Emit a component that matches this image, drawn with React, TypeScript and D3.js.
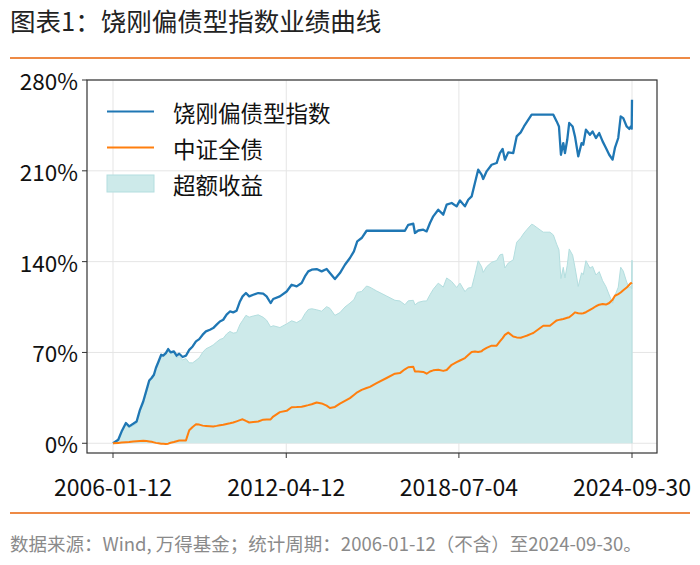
import React from "react";
import * as d3 from "d3";

const dates: string[] = [
  "2006-01-12","2006-03-22","2006-05-05","2006-07-01","2006-08-13","2006-10-05","2006-11-19",
  "2007-01-02","2007-02-14","2007-03-30","2007-05-04","2007-06-04","2007-07-05","2007-07-31",
  "2007-09-04","2007-10-09","2007-11-04","2007-12-09","2008-01-09","2008-02-10","2008-03-24",
  "2008-04-29","2008-06-02","2008-07-17","2008-08-30","2008-10-12","2008-11-26","2009-01-09",
  "2009-02-21","2009-04-07","2009-05-20","2009-07-12","2009-08-24","2009-10-08","2009-11-20",
  "2010-01-03","2010-02-16","2010-04-01","2010-05-14","2010-06-28","2010-08-11","2010-09-15",
  "2010-10-29","2010-12-11","2011-02-02","2011-04-09","2011-06-13","2011-07-28","2011-09-19",
  "2011-10-23","2012-01-19","2012-04-17","2012-06-22","2012-08-27","2012-11-01","2012-12-14",
  "2013-01-27","2013-03-13","2013-05-17","2013-07-22","2013-09-26","2013-11-08","2014-01-13",
  "2014-03-20","2014-05-25","2014-07-30","2014-09-20","2014-11-03","2014-12-31","2015-03-06",
  "2015-04-19","2015-07-16","2015-11-25","2016-03-13","2016-05-18","2016-07-23","2016-09-05",
  "2016-11-10","2016-12-02","2017-01-15","2017-03-22","2017-05-05","2017-06-18","2017-07-31",
  "2017-10-05","2017-12-10","2018-01-24","2018-03-31","2018-06-04","2018-07-18","2018-09-22",
  "2018-11-04","2018-12-19","2019-01-31","2019-03-15","2019-04-29","2019-05-20","2019-07-04",
  "2019-09-08","2019-11-13","2019-12-26","2020-01-31","2020-03-01","2020-04-14","2020-06-19",
  "2020-08-03","2020-09-25","2020-11-07","2020-12-20","2021-02-16","2021-03-10","2021-07-19",
  "2021-10-15","2021-11-29","2022-01-12","2022-02-11","2022-03-09","2022-04-09","2022-05-01",
  "2022-05-31","2022-06-26","2022-08-10","2022-09-10","2022-10-23","2022-12-06","2022-12-28",
  "2023-02-01","2023-03-26","2023-04-30","2023-06-13","2023-07-26","2023-09-09","2023-10-23",
  "2023-12-05","2024-01-18","2024-02-18","2024-04-02","2024-05-04","2024-06-07","2024-07-22",
  "2024-08-26","2024-09-13","2024-09-26","2024-09-30",
];

// 饶刚偏债型指数 cumulative return (%)
const indexValues: number[] = [
  0, 2.7, 9.0, 15.6, 13.0, 15.0, 16.8,
  25.8, 32.2, 41.2, 48.4, 50.3, 52.8, 58.0,
  63.0, 68.2, 67.5, 69.5, 72.6, 70.0, 70.8,
  67.5, 69.0, 66.5, 67.5, 72.0, 74.6, 78.5,
  80.3, 83.7, 86.2, 87.5, 88.8, 91.4, 93.9,
  95.2, 99.1, 101.6, 100.9, 102.2, 109.3, 113.2,
  115.8, 113.2, 114.5, 115.8, 115.3, 113.2, 108.1,
  111.2, 113.2, 117.0, 122.2, 120.9, 123.5, 128.6,
  132.5, 133.8, 134.3, 132.5, 134.3, 131.2, 126.6,
  131.2, 137.6, 142.8, 147.9, 155.6, 158.2, 163.8,
  163.8, 163.8, 163.8, 163.8, 163.8, 163.8, 168.4,
  169.2, 162.1, 164.0, 164.6, 163.3, 169.8, 174.9,
  180.0, 176.2, 183.9, 185.2, 182.6, 187.2, 182.6,
  187.7, 190.3, 200.6, 210.9, 207.0, 203.7, 209.6,
  214.7, 216.0, 223.7, 226.8, 218.6, 224.2, 223.7,
  236.5, 239.6, 244.2, 248.1, 253.3, 253.3, 253.3,
  253.3, 253.3, 248.1, 244.2, 222.4, 231.4, 223.7,
  233.9, 246.9, 244.2, 236.5, 221.1, 231.4, 230.1,
  241.7, 237.8, 240.3, 235.3, 239.1, 232.7, 227.6,
  222.4, 218.6, 227.6, 235.3, 251.9, 250.6, 244.2,
  242.2, 244.2, 242.5, 264.8,
];

// 中证全债 cumulative return (%)
const bondValues: number[] = [
  0, 0.3, 0.5, 0.8, 1.0, 1.4, 1.6,
  1.8, 1.9, 1.7, 1.4, 1.1, 0.7, 0.3,
  0.0, -0.3, -0.4, -0.6, -0.3, 0.4, 1.0,
  1.6, 2.1, 2.2, 2.2, 10.0, 12.6, 14.6,
  14.4, 13.6, 13.4, 13.2, 13.0, 13.4, 13.9,
  14.3, 14.9, 15.4, 16.0, 16.9, 17.8, 18.5,
  17.2, 16.0, 16.4, 16.8, 18.2, 18.3, 18.4,
  20.6, 24.0, 25.0, 27.8, 27.9, 28.2, 28.8,
  29.4, 30.1, 31.4, 30.7, 29.0, 27.2, 28.0,
  30.5, 32.6, 34.8, 37.2, 39.3, 41.2, 42.6,
  43.5, 46.4, 50.3, 53.6, 54.1, 57.0, 58.6,
  59.0, 55.4, 55.4, 55.0, 53.6, 55.3, 56.2,
  56.6, 55.8, 56.5, 60.5, 62.5, 63.8, 65.7,
  68.0, 70.3, 70.8, 70.3, 70.9, 72.0, 73.5,
  75.2, 75.2, 78.5, 81.0, 83.5, 85.3, 82.3,
  81.6, 81.3, 82.2, 83.1, 84.5, 85.0, 90.6,
  90.6, 92.7, 94.7, 95.1, 95.4, 95.8, 96.2,
  96.7, 97.1, 99.2, 100.9, 100.2, 100.0, 100.2,
  101.0, 102.8, 104.0, 105.6, 106.8, 107.4, 106.9,
  108.1, 110.6, 113.7, 115.0, 116.2, 117.9, 120.0,
  122.2, 123.3, 123.6, 123.8,
];

const yTicks: number[] = [0, 70, 140, 210, 280];
const xTickLabels: string[] = ["2006-01-12", "2012-04-12", "2018-07-04", "2024-09-30"];
const seriesNames: string[] = ["饶刚偏债型指数", "中证全债", "超额收益"];

const title = "图表1：饶刚偏债型指数业绩曲线";
const footer = "数据来源：Wind, 万得基金；统计周期：2006-01-12（不含）至2024-09-30。";

const BLUE = "#1f77b4";
const ORANGE = "#ff7f0e";
const FILL = "#cdeaea";
const FILL_EDGE = "#b3dedf";
const ACCENT = "#ee8a45";
const FONT = "'Noto Sans CJK SC', 'Noto Sans', sans-serif";

export default function App() {
  const W = 700, H = 565;
  const left = 87, right = 657, top = 80, bottom = 453;
  const parse = d3.timeParse("%Y-%m-%d");
  const dts = dates.map((d) => parse(d) as Date);
  const excess = indexValues.map((v, i) => v - bondValues[i]);

  const x = d3
    .scaleTime()
    .domain([parse("2006-01-12") as Date, parse("2024-09-30") as Date])
    .range([113, 632]);
  const y = d3.scaleLinear().domain([-7.5, 280]).range([bottom, top]);

  const line = (vals: number[]) =>
    d3
      .line<number>()
      .x((_, i) => x(dts[i]))
      .y((v) => y(v))(vals) as string;
  const area = d3
    .area<number>()
    .x((_, i) => x(dts[i]))
    .y0(y(0))
    .y1((v) => y(v))(excess) as string;
  const areaTop = line(excess);

  const xTicks = xTickLabels.map((s) => parse(s) as Date);

  return (
    <svg
      width={W}
      height={H}
      style={{ position: "absolute", left: 0, top: 0, background: "#fff" }}
      fontFamily={FONT}
    >
      <rect x={0} y={0} width={W} height={H} fill="#fff" />
      <text x={10} y={31} fontSize={25.5} fill="#222">
        {title}
      </text>
      <line x1={10} x2={690} y1={58} y2={58} stroke={ACCENT} strokeWidth={2} />

      {/* grid */}
      {yTicks.map((t) => (
        <line key={"gy" + t} x1={left} x2={right} y1={y(t)} y2={y(t)} stroke="#e5e5e5" strokeWidth={1} />
      ))}
      {xTicks.map((t, i) => (
        <line key={"gx" + i} x1={x(t)} x2={x(t)} y1={top} y2={bottom} stroke="#e5e5e5" strokeWidth={1} />
      ))}

      {/* excess fill */}
      <path d={area} fill={FILL} stroke="none" />
      <path d={areaTop} fill="none" stroke={FILL_EDGE} strokeWidth={1} />
      <line x1={x(dts[dts.length - 1])} x2={x(dts[dts.length - 1])} y1={y(0)} y2={y(excess[excess.length - 1])} stroke={FILL_EDGE} strokeWidth={1} />

      <path d={line(indexValues)} fill="none" stroke={BLUE} strokeWidth={2.3} strokeLinejoin="round" />
      <path d={line(bondValues)} fill="none" stroke={ORANGE} strokeWidth={2} strokeLinejoin="round" />

      {/* spines */}
      <rect x={left} y={top} width={right - left} height={bottom - top} fill="none" stroke="#333" strokeWidth={1.2} />

      {/* y ticks */}
      {yTicks.map((t) => (
        <g key={"yt" + t}>
          <line x1={left - 5} x2={left} y1={y(t)} y2={y(t)} stroke="#333" strokeWidth={1} />
          <text x={left - 9} y={y(t)} fontSize={22.5} textAnchor="end" dominantBaseline="central" fill="#111">
            {t + "%"}
          </text>
        </g>
      ))}
      {/* x ticks */}
      {xTicks.map((t, i) => (
        <g key={"xt" + i}>
          <line x1={x(t)} x2={x(t)} y1={bottom} y2={bottom + 5} stroke="#333" strokeWidth={1} />
          <text x={x(t)} y={496} fontSize={23} textAnchor="middle" fill="#111">
            {xTickLabels[i]}
          </text>
        </g>
      ))}

      {/* legend */}
      <line x1={107} x2={154} y1={111.5} y2={111.5} stroke={BLUE} strokeWidth={2} />
      <text x={173} y={112} fontSize={22.5} dominantBaseline="central" fill="#111">{seriesNames[0]}</text>
      <line x1={107} x2={154} y1={147.5} y2={147.5} stroke={ORANGE} strokeWidth={2} />
      <text x={173} y={148} fontSize={22.5} dominantBaseline="central" fill="#111">{seriesNames[1]}</text>
      <rect x={107} y={175} width={47} height={17} fill={FILL} stroke={FILL_EDGE} strokeWidth={1} />
      <text x={173} y={184} fontSize={22.5} dominantBaseline="central" fill="#111">{seriesNames[2]}</text>

      <line x1={10} x2={690} y1={513} y2={513} stroke={ACCENT} strokeWidth={2} />
      <text x={10} y={551} fontSize={18.5} fill="#8a8a8a">
        {footer}
      </text>
    </svg>
  );
}
